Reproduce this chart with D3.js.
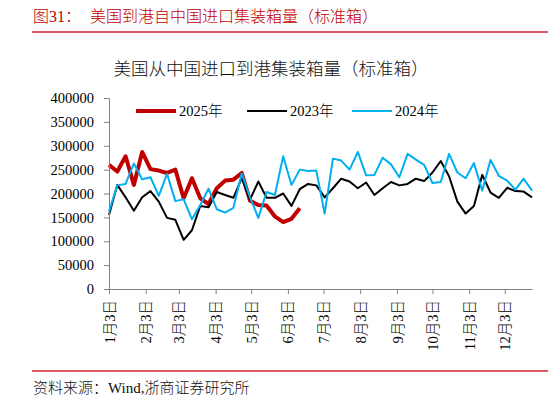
<!DOCTYPE html>
<html>
<head>
<meta charset="utf-8">
<script src="https://cdn.jsdelivr.net/npm/d3@7"></script>
<style>
  body { margin: 0; background: #fff; }
  svg { display: block; }
  text { font-family: "Liberation Serif", "Noto Sans CJK SC", serif; font-weight: 300; }
</style>
</head>
<body>
<svg id="chart" width="548" height="404"></svg>
<script>

// weekly values, week 0 = 1月3日
let v2025 = [260000, 246000, 278000, 218000, 287000, 251000, 248000, 243000, 250000, 190000,
             232000, 190000, 178000, 211000, 227000, 229000, 243000, 185000, 176000, 175000,
             152000, 140000, 147000, 169000]

let v2023 = [155000, 218000, 192000, 164000, 192000, 205000, 183000, 149000, 145000, 103000,
             123000, 174000, 171000, 203000, 197000, 191000, 232000, 187000, 225000, 191000,
             191000, 200000, 174000, 209000, 220000, 217000, 192000, 211000, 231000, 225000,
             211000, 223000, 197000, 211000, 224000, 217000, 220000, 231000, 226000, 244000,
             268000, 236000, 183000, 158000, 174000, 239000, 202000, 191000, 212000, 205000,
             204000, 192000]

let v2024 = [162000, 217000, 220000, 263000, 230000, 234000, 195000, 241000, 184000, 188000,
             146000, 176000, 210000, 167000, 160000, 170000, 242000, 192000, 149000, 203000,
             197000, 278000, 218000, 250000, 247000, 248000, 158000, 273000, 269000, 250000,
             287000, 238000, 239000, 275000, 261000, 234000, 283000, 271000, 260000, 222000,
             224000, 283000, 244000, 232000, 264000, 206000, 270000, 237000, 227000, 208000,
             231000, 206000]

let series_names = ["2025年", "2023年", "2024年"]
let y_ticks = [0, 50000, 100000, 150000, 200000, 250000, 300000, 350000, 400000]
let tick_months = [1, 2, 3, 4, 5, 6, 7, 8, 9, 10, 11, 12]

let width = 548,
    height = 404,
    plot = {left: 109, right: 532, top: 98, bottom: 289}

let styles = {
  "2025年": {color: "#c00000", width: 4},
  "2023年": {color: "#000000", width: 2},
  "2024年": {color: "#00b0f0", width: 2}
}

function week_date(i) {
  return new Date(2023, 0, 3 + 7 * i)
}

function make_scales() {
  return {
    x: d3.scaleTime()
      .domain([week_date(0), week_date(51)])
      .range([plot.left, plot.right]),
    y: d3.scaleLinear()
      .domain([0, 400000])
      .range([plot.bottom, plot.top])
  }
}

function draw_frame(svg) {
  svg.append("text")
    .attr("x", 33).attr("y", 22)
    .attr("font-size", 16).attr("fill", "#c00000")
    .text("图31：")
  svg.append("text")
    .attr("x", 90).attr("y", 22)
    .attr("font-size", 16).attr("fill", "#c00000")
    .text("美国到港自中国进口集装箱量（标准箱）")
  svg.append("line")
    .attr("x1", 32).attr("x2", width).attr("y1", 32).attr("y2", 32)
    .attr("stroke", "#d0242b").attr("stroke-width", 1.3)

  svg.append("text")
    .attr("x", 271).attr("y", 75)
    .attr("text-anchor", "middle")
    .attr("font-size", 17.5).attr("fill", "#111")
    .text("美国从中国进口到港集装箱量（标准箱）")

  svg.append("line")
    .attr("x1", 32).attr("x2", width).attr("y1", 371).attr("y2", 371)
    .attr("stroke", "#d0242b").attr("stroke-width", 1.3)
  svg.append("text")
    .attr("x", 33).attr("y", 393)
    .attr("font-size", 15).attr("fill", "#111")
    .text("资料来源：Wind,浙商证券研究所")
}

function draw_axes(svg, scales) {
  let yaxis = svg.append("g")
    .attr("transform", `translate(${plot.left},0)`)
    .call(d3.axisLeft(scales.y)
      .tickValues(y_ticks)
      .tickFormat(d3.format("d"))
      .tickSize(5)
      .tickSizeOuter(0)
      .tickPadding(10))
  yaxis.selectAll("text").attr("font-size", 14.5).attr("fill", "#000")
    .style("font-family", '"Liberation Serif", serif')

  let tick_dates = tick_months.map(m => new Date(2023, m - 1, 3))
  let xaxis = svg.append("g")
    .attr("transform", `translate(0,${plot.bottom})`)
    .call(d3.axisBottom(scales.x)
      .tickValues(tick_dates)
      .tickFormat(d => `${d.getMonth() + 1}月3日`)
      .tickSize(5)
      .tickSizeOuter(0))
  xaxis.selectAll("text")
    .attr("transform", "rotate(-90)")
    .attr("text-anchor", "end")
    .attr("x", -11).attr("y", 0).attr("dy", "0.35em")
    .attr("font-size", 14.5).attr("fill", "#000")

  svg.selectAll(".domain, .tick line").attr("stroke", "#808080")
}

function draw_lines(svg, scales) {
  let data = [v2025, v2023, v2024]
  let line = d3.line()
    .x((d, i) => scales.x(week_date(i)))
    .y(d => scales.y(d))

  svg.append("g")
    .selectAll("path")
    .data(data).enter()
    .append("path")
    .attr("d", line)
    .attr("fill", "none")
    .attr("stroke", (d, i) => styles[series_names[i]].color)
    .attr("stroke-width", (d, i) => styles[series_names[i]].width)
    .attr("stroke-linejoin", "round")
}

function draw_legend(svg) {
  let spots = [136, 247, 352]
  let g = svg.append("g").attr("transform", "translate(0,111)")
  let items = g.selectAll("g")
    .data(series_names).enter()
    .append("g")
    .attr("transform", (d, i) => `translate(${spots[i]},0)`)
  items.append("line")
    .attr("x1", 0).attr("x2", 40)
    .attr("stroke", d => styles[d].color)
    .attr("stroke-width", d => styles[d].width)
  items.append("text")
    .attr("x", 43).attr("dy", "0.35em")
    .attr("font-size", 14.5)
    .text(d => d)
}

let svg = d3.select("#chart")
let scales = make_scales()
draw_frame(svg)
draw_lines(svg, scales)
draw_axes(svg, scales)
draw_legend(svg)

</script>
</body>
</html>
